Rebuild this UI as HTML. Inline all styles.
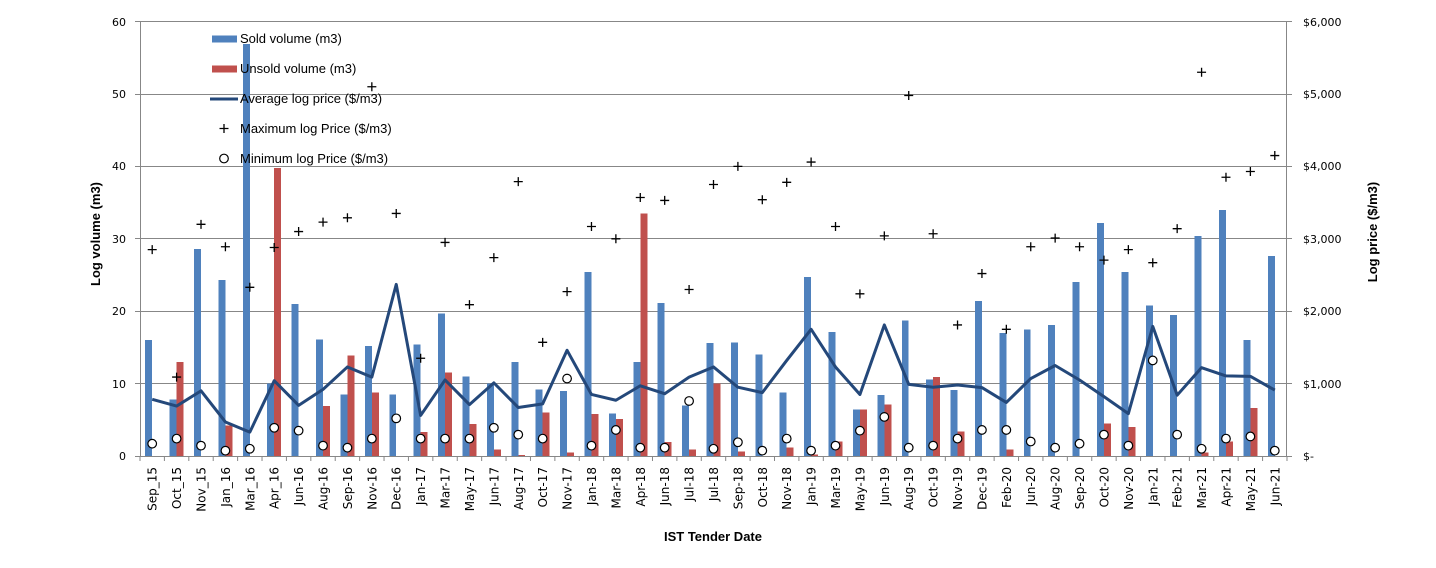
<!DOCTYPE html>
<html>
<head>
<meta charset="utf-8">
<style>
html,body{margin:0;padding:0;background:#fff;}
svg{display:block;}
.tk{font-family:"DejaVu Sans","Liberation Sans",sans-serif;font-size:11px;fill:#000;}
.xl{font-family:"DejaVu Sans","Liberation Sans",sans-serif;font-size:12px;fill:#000;}
.lg{font-family:"Liberation Sans",sans-serif;font-size:13px;fill:#000;}
.tt{font-family:"Liberation Sans",sans-serif;font-size:13px;font-weight:bold;fill:#000;}
</style>
</head>
<body>
<svg width="1436" height="568" viewBox="0 0 1436 568" xmlns="http://www.w3.org/2000/svg" xmlns:xlink="http://www.w3.org/1999/xlink">
<defs>
<path id="pl" d="M-4.5,0H4.5M0,-4.5V4.5" stroke="#000" stroke-width="1.3" fill="none"/>
<circle id="ci" cx="0" cy="0" r="4.3" stroke="#000" stroke-width="1.2" fill="#fff"/>
</defs>
<rect width="1436" height="568" fill="#fff"/>
<!-- gridlines -->
<g stroke="#878787" stroke-width="1" shape-rendering="crispEdges">
<line x1="140" y1="21.5" x2="1287" y2="21.5"/>
<line x1="140" y1="94.5" x2="1287" y2="94.5"/>
<line x1="140" y1="166.5" x2="1287" y2="166.5"/>
<line x1="140" y1="238.5" x2="1287" y2="238.5"/>
<line x1="140" y1="311.5" x2="1287" y2="311.5"/>
<line x1="140" y1="383.5" x2="1287" y2="383.5"/>
<!-- axes -->
<line x1="140.5" y1="21.5" x2="140.5" y2="456.5"/>
<line x1="1286.5" y1="21.5" x2="1286.5" y2="456.5"/>
<line x1="135" y1="456.5" x2="1292" y2="456.5"/>
<!-- left ticks -->
<line x1="135" y1="21.5" x2="140" y2="21.5"/>
<line x1="135" y1="94.5" x2="140" y2="94.5"/>
<line x1="135" y1="166.5" x2="140" y2="166.5"/>
<line x1="135" y1="238.5" x2="140" y2="238.5"/>
<line x1="135" y1="311.5" x2="140" y2="311.5"/>
<line x1="135" y1="383.5" x2="140" y2="383.5"/>
<!-- right ticks -->
<line x1="1287" y1="21.5" x2="1292" y2="21.5"/>
<line x1="1287" y1="94.5" x2="1292" y2="94.5"/>
<line x1="1287" y1="166.5" x2="1292" y2="166.5"/>
<line x1="1287" y1="238.5" x2="1292" y2="238.5"/>
<line x1="1287" y1="311.5" x2="1292" y2="311.5"/>
<line x1="1287" y1="383.5" x2="1292" y2="383.5"/>
</g>
<!-- category ticks -->
<g transform="translate(140,0) scale(24.404,1)">
<path stroke="#878787" stroke-width="1" vector-effect="non-scaling-stroke" fill="none" d="M0,456V461M1,456V461M2,456V461M3,456V461M4,456V461M5,456V461M6,456V461M7,456V461M8,456V461M9,456V461M10,456V461M11,456V461M12,456V461M13,456V461M14,456V461M15,456V461M16,456V461M17,456V461M18,456V461M19,456V461M20,456V461M21,456V461M22,456V461M23,456V461M24,456V461M25,456V461M26,456V461M27,456V461M28,456V461M29,456V461M30,456V461M31,456V461M32,456V461M33,456V461M34,456V461M35,456V461M36,456V461M37,456V461M38,456V461M39,456V461M40,456V461M41,456V461M42,456V461M43,456V461M44,456V461M45,456V461M46,456V461M47,456V461"/>
</g>

<!-- data -->
<g transform="translate(140,456) scale(24.404,-7.24)">
<g fill="#4F81BD" shape-rendering="crispEdges">
<rect x="0.2143" y="0" width="0.2857" height="16.0"/>
<rect x="1.2143" y="0" width="0.2857" height="7.83"/>
<rect x="2.2143" y="0" width="0.2857" height="28.6"/>
<rect x="3.2143" y="0" width="0.2857" height="24.3"/>
<rect x="4.2143" y="0" width="0.2857" height="56.9"/>
<rect x="5.2143" y="0" width="0.2857" height="10.0"/>
<rect x="6.2143" y="0" width="0.2857" height="21.0"/>
<rect x="7.2143" y="0" width="0.2857" height="16.1"/>
<rect x="8.2143" y="0" width="0.2857" height="8.5"/>
<rect x="9.2143" y="0" width="0.2857" height="15.2"/>
<rect x="10.2143" y="0" width="0.2857" height="8.5"/>
<rect x="11.2143" y="0" width="0.2857" height="15.4"/>
<rect x="12.2143" y="0" width="0.2857" height="19.7"/>
<rect x="13.2143" y="0" width="0.2857" height="11.0"/>
<rect x="14.2143" y="0" width="0.2857" height="10.0"/>
<rect x="15.2143" y="0" width="0.2857" height="12.95"/>
<rect x="16.2143" y="0" width="0.2857" height="9.2"/>
<rect x="17.2143" y="0" width="0.2857" height="9.0"/>
<rect x="18.2143" y="0" width="0.2857" height="25.4"/>
<rect x="19.2143" y="0" width="0.2857" height="5.9"/>
<rect x="20.2143" y="0" width="0.2857" height="12.95"/>
<rect x="21.2143" y="0" width="0.2857" height="21.1"/>
<rect x="22.2143" y="0" width="0.2857" height="7.0"/>
<rect x="23.2143" y="0" width="0.2857" height="15.6"/>
<rect x="24.2143" y="0" width="0.2857" height="15.7"/>
<rect x="25.2143" y="0" width="0.2857" height="14.05"/>
<rect x="26.2143" y="0" width="0.2857" height="8.8"/>
<rect x="27.2143" y="0" width="0.2857" height="24.7"/>
<rect x="28.2143" y="0" width="0.2857" height="17.1"/>
<rect x="29.2143" y="0" width="0.2857" height="6.45"/>
<rect x="30.2143" y="0" width="0.2857" height="8.4"/>
<rect x="31.2143" y="0" width="0.2857" height="18.75"/>
<rect x="32.2143" y="0" width="0.2857" height="10.6"/>
<rect x="33.2143" y="0" width="0.2857" height="9.1"/>
<rect x="34.2143" y="0" width="0.2857" height="21.4"/>
<rect x="35.2143" y="0" width="0.2857" height="17.0"/>
<rect x="36.2143" y="0" width="0.2857" height="17.5"/>
<rect x="37.2143" y="0" width="0.2857" height="18.1"/>
<rect x="38.2143" y="0" width="0.2857" height="24.0"/>
<rect x="39.2143" y="0" width="0.2857" height="32.2"/>
<rect x="40.2143" y="0" width="0.2857" height="25.4"/>
<rect x="41.2143" y="0" width="0.2857" height="20.8"/>
<rect x="42.2143" y="0" width="0.2857" height="19.45"/>
<rect x="43.2143" y="0" width="0.2857" height="30.4"/>
<rect x="44.2143" y="0" width="0.2857" height="34.0"/>
<rect x="45.2143" y="0" width="0.2857" height="16.0"/>
<rect x="46.2143" y="0" width="0.2857" height="27.6"/>
</g>
<g fill="#C0504D" shape-rendering="crispEdges">
<rect x="1.5" y="0" width="0.2857" height="12.95"/>
<rect x="3.5" y="0" width="0.2857" height="4.24"/>
<rect x="5.5" y="0" width="0.2857" height="39.8"/>
<rect x="7.5" y="0" width="0.2857" height="6.9"/>
<rect x="8.5" y="0" width="0.2857" height="13.9"/>
<rect x="9.5" y="0" width="0.2857" height="8.8"/>
<rect x="11.5" y="0" width="0.2857" height="3.3"/>
<rect x="12.5" y="0" width="0.2857" height="11.5"/>
<rect x="13.5" y="0" width="0.2857" height="4.4"/>
<rect x="14.5" y="0" width="0.2857" height="0.9"/>
<rect x="15.5" y="0" width="0.2857" height="0.14"/>
<rect x="16.5" y="0" width="0.2857" height="6.0"/>
<rect x="17.5" y="0" width="0.2857" height="0.5"/>
<rect x="18.5" y="0" width="0.2857" height="5.8"/>
<rect x="19.5" y="0" width="0.2857" height="5.1"/>
<rect x="20.5" y="0" width="0.2857" height="33.5"/>
<rect x="21.5" y="0" width="0.2857" height="1.9"/>
<rect x="22.5" y="0" width="0.2857" height="0.9"/>
<rect x="23.5" y="0" width="0.2857" height="10.0"/>
<rect x="24.5" y="0" width="0.2857" height="0.65"/>
<rect x="26.5" y="0" width="0.2857" height="1.2"/>
<rect x="27.5" y="0" width="0.2857" height="0.23"/>
<rect x="28.5" y="0" width="0.2857" height="2.0"/>
<rect x="29.5" y="0" width="0.2857" height="6.45"/>
<rect x="30.5" y="0" width="0.2857" height="7.1"/>
<rect x="32.5" y="0" width="0.2857" height="10.9"/>
<rect x="33.5" y="0" width="0.2857" height="3.4"/>
<rect x="35.5" y="0" width="0.2857" height="0.9"/>
<rect x="39.5" y="0" width="0.2857" height="4.5"/>
<rect x="40.5" y="0" width="0.2857" height="4.0"/>
<rect x="43.5" y="0" width="0.2857" height="0.5"/>
<rect x="44.5" y="0" width="0.2857" height="2.0"/>
<rect x="45.5" y="0" width="0.2857" height="6.6"/>
</g>
<polyline fill="none" stroke="#24487A" stroke-width="3" stroke-linejoin="round" vector-effect="non-scaling-stroke" points="0.5,7.83 1.5,6.9 2.5,9.0 3.5,4.7 4.5,3.3 5.5,10.4 6.5,7.0 7.5,9.2 8.5,12.3 9.5,10.9 10.5,23.7 11.5,5.6 12.5,10.5 13.5,7.1 14.5,10.1 15.5,6.7 16.5,7.2 17.5,14.6 18.5,8.5 19.5,7.7 20.5,9.7 21.5,8.6 22.5,10.9 23.5,12.3 24.5,9.5 25.5,8.75 26.5,13.2 27.5,17.5 28.5,12.3 29.5,8.5 30.5,18.1 31.5,9.9 32.5,9.5 33.5,9.8 34.5,9.45 35.5,7.4 36.5,10.7 37.5,12.5 38.5,10.5 39.5,8.2 40.5,5.85 41.5,17.9 42.5,8.4 43.5,12.2 44.5,11.06 45.5,11.0 46.5,9.1"/>
<!-- max markers -->
<g>
<use href="#pl" transform="translate(0.5,28.5) scale(0.040977,-0.138122)"/>
<use href="#pl" transform="translate(1.5,10.9) scale(0.040977,-0.138122)"/>
<use href="#pl" transform="translate(2.5,32.0) scale(0.040977,-0.138122)"/>
<use href="#pl" transform="translate(3.5,28.9) scale(0.040977,-0.138122)"/>
<use href="#pl" transform="translate(4.5,23.3) scale(0.040977,-0.138122)"/>
<use href="#pl" transform="translate(5.5,28.8) scale(0.040977,-0.138122)"/>
<use href="#pl" transform="translate(6.5,31.0) scale(0.040977,-0.138122)"/>
<use href="#pl" transform="translate(7.5,32.3) scale(0.040977,-0.138122)"/>
<use href="#pl" transform="translate(8.5,32.9) scale(0.040977,-0.138122)"/>
<use href="#pl" transform="translate(9.5,51.0) scale(0.040977,-0.138122)"/>
<use href="#pl" transform="translate(10.5,33.5) scale(0.040977,-0.138122)"/>
<use href="#pl" transform="translate(11.5,13.5) scale(0.040977,-0.138122)"/>
<use href="#pl" transform="translate(12.5,29.5) scale(0.040977,-0.138122)"/>
<use href="#pl" transform="translate(13.5,20.9) scale(0.040977,-0.138122)"/>
<use href="#pl" transform="translate(14.5,27.4) scale(0.040977,-0.138122)"/>
<use href="#pl" transform="translate(15.5,37.9) scale(0.040977,-0.138122)"/>
<use href="#pl" transform="translate(16.5,15.7) scale(0.040977,-0.138122)"/>
<use href="#pl" transform="translate(17.5,22.7) scale(0.040977,-0.138122)"/>
<use href="#pl" transform="translate(18.5,31.7) scale(0.040977,-0.138122)"/>
<use href="#pl" transform="translate(19.5,30.0) scale(0.040977,-0.138122)"/>
<use href="#pl" transform="translate(20.5,35.7) scale(0.040977,-0.138122)"/>
<use href="#pl" transform="translate(21.5,35.3) scale(0.040977,-0.138122)"/>
<use href="#pl" transform="translate(22.5,23.0) scale(0.040977,-0.138122)"/>
<use href="#pl" transform="translate(23.5,37.5) scale(0.040977,-0.138122)"/>
<use href="#pl" transform="translate(24.5,40.0) scale(0.040977,-0.138122)"/>
<use href="#pl" transform="translate(25.5,35.4) scale(0.040977,-0.138122)"/>
<use href="#pl" transform="translate(26.5,37.8) scale(0.040977,-0.138122)"/>
<use href="#pl" transform="translate(27.5,40.6) scale(0.040977,-0.138122)"/>
<use href="#pl" transform="translate(28.5,31.7) scale(0.040977,-0.138122)"/>
<use href="#pl" transform="translate(29.5,22.4) scale(0.040977,-0.138122)"/>
<use href="#pl" transform="translate(30.5,30.4) scale(0.040977,-0.138122)"/>
<use href="#pl" transform="translate(31.5,49.8) scale(0.040977,-0.138122)"/>
<use href="#pl" transform="translate(32.5,30.7) scale(0.040977,-0.138122)"/>
<use href="#pl" transform="translate(33.5,18.1) scale(0.040977,-0.138122)"/>
<use href="#pl" transform="translate(34.5,25.2) scale(0.040977,-0.138122)"/>
<use href="#pl" transform="translate(35.5,17.5) scale(0.040977,-0.138122)"/>
<use href="#pl" transform="translate(36.5,28.9) scale(0.040977,-0.138122)"/>
<use href="#pl" transform="translate(37.5,30.1) scale(0.040977,-0.138122)"/>
<use href="#pl" transform="translate(38.5,28.9) scale(0.040977,-0.138122)"/>
<use href="#pl" transform="translate(39.5,27.05) scale(0.040977,-0.138122)"/>
<use href="#pl" transform="translate(40.5,28.5) scale(0.040977,-0.138122)"/>
<use href="#pl" transform="translate(41.5,26.7) scale(0.040977,-0.138122)"/>
<use href="#pl" transform="translate(42.5,31.4) scale(0.040977,-0.138122)"/>
<use href="#pl" transform="translate(43.5,53.0) scale(0.040977,-0.138122)"/>
<use href="#pl" transform="translate(44.5,38.5) scale(0.040977,-0.138122)"/>
<use href="#pl" transform="translate(45.5,39.3) scale(0.040977,-0.138122)"/>
<use href="#pl" transform="translate(46.5,41.5) scale(0.040977,-0.138122)"/>
</g>
<!-- min markers -->
<g>
<use href="#ci" transform="translate(0.5,1.7) scale(0.040977,-0.138122)"/>
<use href="#ci" transform="translate(1.5,2.4) scale(0.040977,-0.138122)"/>
<use href="#ci" transform="translate(2.5,1.43) scale(0.040977,-0.138122)"/>
<use href="#ci" transform="translate(3.5,0.74) scale(0.040977,-0.138122)"/>
<use href="#ci" transform="translate(4.5,1.0) scale(0.040977,-0.138122)"/>
<use href="#ci" transform="translate(5.5,3.9) scale(0.040977,-0.138122)"/>
<use href="#ci" transform="translate(6.5,3.5) scale(0.040977,-0.138122)"/>
<use href="#ci" transform="translate(7.5,1.43) scale(0.040977,-0.138122)"/>
<use href="#ci" transform="translate(8.5,1.15) scale(0.040977,-0.138122)"/>
<use href="#ci" transform="translate(9.5,2.4) scale(0.040977,-0.138122)"/>
<use href="#ci" transform="translate(10.5,5.2) scale(0.040977,-0.138122)"/>
<use href="#ci" transform="translate(11.5,2.4) scale(0.040977,-0.138122)"/>
<use href="#ci" transform="translate(12.5,2.4) scale(0.040977,-0.138122)"/>
<use href="#ci" transform="translate(13.5,2.4) scale(0.040977,-0.138122)"/>
<use href="#ci" transform="translate(14.5,3.9) scale(0.040977,-0.138122)"/>
<use href="#ci" transform="translate(15.5,2.95) scale(0.040977,-0.138122)"/>
<use href="#ci" transform="translate(16.5,2.4) scale(0.040977,-0.138122)"/>
<use href="#ci" transform="translate(17.5,10.7) scale(0.040977,-0.138122)"/>
<use href="#ci" transform="translate(18.5,1.43) scale(0.040977,-0.138122)"/>
<use href="#ci" transform="translate(19.5,3.6) scale(0.040977,-0.138122)"/>
<use href="#ci" transform="translate(20.5,1.15) scale(0.040977,-0.138122)"/>
<use href="#ci" transform="translate(21.5,1.15) scale(0.040977,-0.138122)"/>
<use href="#ci" transform="translate(22.5,7.6) scale(0.040977,-0.138122)"/>
<use href="#ci" transform="translate(23.5,1.0) scale(0.040977,-0.138122)"/>
<use href="#ci" transform="translate(24.5,1.9) scale(0.040977,-0.138122)"/>
<use href="#ci" transform="translate(25.5,0.74) scale(0.040977,-0.138122)"/>
<use href="#ci" transform="translate(26.5,2.4) scale(0.040977,-0.138122)"/>
<use href="#ci" transform="translate(27.5,0.74) scale(0.040977,-0.138122)"/>
<use href="#ci" transform="translate(28.5,1.43) scale(0.040977,-0.138122)"/>
<use href="#ci" transform="translate(29.5,3.5) scale(0.040977,-0.138122)"/>
<use href="#ci" transform="translate(30.5,5.4) scale(0.040977,-0.138122)"/>
<use href="#ci" transform="translate(31.5,1.15) scale(0.040977,-0.138122)"/>
<use href="#ci" transform="translate(32.5,1.43) scale(0.040977,-0.138122)"/>
<use href="#ci" transform="translate(33.5,2.4) scale(0.040977,-0.138122)"/>
<use href="#ci" transform="translate(34.5,3.6) scale(0.040977,-0.138122)"/>
<use href="#ci" transform="translate(35.5,3.6) scale(0.040977,-0.138122)"/>
<use href="#ci" transform="translate(36.5,2.0) scale(0.040977,-0.138122)"/>
<use href="#ci" transform="translate(37.5,1.15) scale(0.040977,-0.138122)"/>
<use href="#ci" transform="translate(38.5,1.7) scale(0.040977,-0.138122)"/>
<use href="#ci" transform="translate(39.5,2.95) scale(0.040977,-0.138122)"/>
<use href="#ci" transform="translate(40.5,1.43) scale(0.040977,-0.138122)"/>
<use href="#ci" transform="translate(41.5,13.2) scale(0.040977,-0.138122)"/>
<use href="#ci" transform="translate(42.5,2.95) scale(0.040977,-0.138122)"/>
<use href="#ci" transform="translate(43.5,1.0) scale(0.040977,-0.138122)"/>
<use href="#ci" transform="translate(44.5,2.4) scale(0.040977,-0.138122)"/>
<use href="#ci" transform="translate(45.5,2.7) scale(0.040977,-0.138122)"/>
<use href="#ci" transform="translate(46.5,0.74) scale(0.040977,-0.138122)"/>
</g>
</g>

<!-- left tick labels -->
<g class="tk" text-anchor="end">
<text x="126" y="460">0</text>
<text x="126" y="388">10</text>
<text x="126" y="315">20</text>
<text x="126" y="243">30</text>
<text x="126" y="170">40</text>
<text x="126" y="98">50</text>
<text x="126" y="26">60</text>
</g>
<!-- right tick labels -->
<g class="tk">
<text x="1303" y="460">$-</text>
<text x="1303" y="388">$1,000</text>
<text x="1303" y="315">$2,000</text>
<text x="1303" y="243">$3,000</text>
<text x="1303" y="170">$4,000</text>
<text x="1303" y="98">$5,000</text>
<text x="1303" y="26">$6,000</text>
</g>

<!-- x labels -->
<g class="xl" text-anchor="end">
<text transform="translate(156.7,467) rotate(-90)">Sep_15</text>
<text transform="translate(181.1,467) rotate(-90)">Oct_15</text>
<text transform="translate(205.5,467) rotate(-90)">Nov_15</text>
<text transform="translate(229.9,467) rotate(-90)">Jan_16</text>
<text transform="translate(254.3,467) rotate(-90)">Mar_16</text>
<text transform="translate(278.7,467) rotate(-90)">Apr_16</text>
<text transform="translate(303.1,467) rotate(-90)">Jun-16</text>
<text transform="translate(327.5,467) rotate(-90)">Aug-16</text>
<text transform="translate(351.9,467) rotate(-90)">Sep-16</text>
<text transform="translate(376.3,467) rotate(-90)">Nov-16</text>
<text transform="translate(400.7,467) rotate(-90)">Dec-16</text>
<text transform="translate(425.1,467) rotate(-90)">Jan-17</text>
<text transform="translate(449.5,467) rotate(-90)">Mar-17</text>
<text transform="translate(474.0,467) rotate(-90)">May-17</text>
<text transform="translate(498.4,467) rotate(-90)">Jun-17</text>
<text transform="translate(522.8,467) rotate(-90)">Aug-17</text>
<text transform="translate(547.2,467) rotate(-90)">Oct-17</text>
<text transform="translate(571.6,467) rotate(-90)">Nov-17</text>
<text transform="translate(596.0,467) rotate(-90)">Jan-18</text>
<text transform="translate(620.4,467) rotate(-90)">Mar-18</text>
<text transform="translate(644.8,467) rotate(-90)">Apr-18</text>
<text transform="translate(669.2,467) rotate(-90)">Jun-18</text>
<text transform="translate(693.6,467) rotate(-90)">Jul-18</text>
<text transform="translate(718.0,467) rotate(-90)">Jul-18</text>
<text transform="translate(742.4,467) rotate(-90)">Sep-18</text>
<text transform="translate(766.8,467) rotate(-90)">Oct-18</text>
<text transform="translate(791.2,467) rotate(-90)">Nov-18</text>
<text transform="translate(815.6,467) rotate(-90)">Jan-19</text>
<text transform="translate(840.0,467) rotate(-90)">Mar-19</text>
<text transform="translate(864.4,467) rotate(-90)">May-19</text>
<text transform="translate(888.8,467) rotate(-90)">Jun-19</text>
<text transform="translate(913.2,467) rotate(-90)">Aug-19</text>
<text transform="translate(937.6,467) rotate(-90)">Oct-19</text>
<text transform="translate(962.0,467) rotate(-90)">Nov-19</text>
<text transform="translate(986.4,467) rotate(-90)">Dec-19</text>
<text transform="translate(1010.8,467) rotate(-90)">Feb-20</text>
<text transform="translate(1035.2,467) rotate(-90)">Jun-20</text>
<text transform="translate(1059.7,467) rotate(-90)">Aug-20</text>
<text transform="translate(1084.1,467) rotate(-90)">Sep-20</text>
<text transform="translate(1108.5,467) rotate(-90)">Oct-20</text>
<text transform="translate(1132.9,467) rotate(-90)">Nov-20</text>
<text transform="translate(1157.3,467) rotate(-90)">Jan-21</text>
<text transform="translate(1181.7,467) rotate(-90)">Feb-21</text>
<text transform="translate(1206.1,467) rotate(-90)">Mar-21</text>
<text transform="translate(1230.5,467) rotate(-90)">Apr-21</text>
<text transform="translate(1254.9,467) rotate(-90)">May-21</text>
<text transform="translate(1279.3,467) rotate(-90)">Jun-21</text>
</g>

<!-- axis titles -->
<text class="tt" text-anchor="middle" x="713" y="541">IST Tender Date</text>
<text class="tt" text-anchor="middle" transform="translate(100,234) rotate(-90)">Log volume (m3)</text>
<text class="tt" text-anchor="middle" transform="translate(1377,232) rotate(-90)">Log price ($/m3)</text>

<!-- legend -->
<rect x="212" y="35.5" width="25" height="7" fill="#4F81BD"/>
<rect x="212" y="65.5" width="25" height="7" fill="#C0504D"/>
<line x1="210" y1="99" x2="238" y2="99" stroke="#24487A" stroke-width="3"/>
<use href="#pl" transform="translate(224,128.5)"/>
<use href="#ci" transform="translate(224,158.5)"/>
<g class="lg">
<text x="240" y="43">Sold volume (m3)</text>
<text x="240" y="73">Unsold volume (m3)</text>
<text x="240" y="103">Average log price ($/m3)</text>
<text x="240" y="133">Maximum log Price ($/m3)</text>
<text x="240" y="163">Minimum log Price ($/m3)</text>
</g>
</svg>
</body>
</html>
